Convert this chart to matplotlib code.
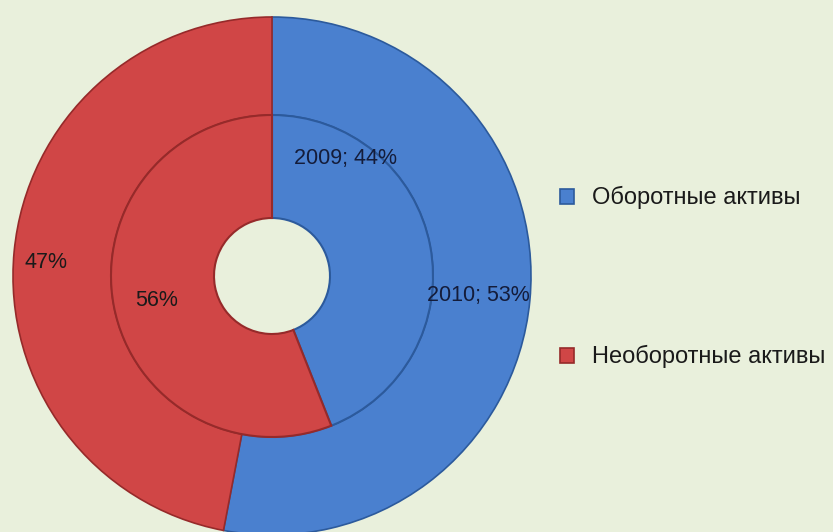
import numpy as np
import matplotlib.pyplot as plt

# ----------------------------------------------------------------------------------------------------------------------
# data
# ----------------------------------------------------------------------------------------------------------------------

categories = ["Оборотные активы", "Необоротные активы"]
years = ["2009", "2010"]
share_2009 = [44, 56]
share_2010 = [53, 47]

colors = ["#4a80cf", "#d04646"]
edge_colors = ["#2c5a9c", "#962a2a"]
bg = "#e9f0dc"

# ----------------------------------------------------------------------------------------------------------------------
# figure (axes in pixel units, 833 x 532)
# ----------------------------------------------------------------------------------------------------------------------

W, H = 833, 532
fig = plt.figure(figsize=(W / 100, H / 100), dpi=100, facecolor=bg)
ax = fig.add_axes([0, 0, 1, 1])
ax.set_facecolor(bg)

cx, cy = 272, H - 276
r_out, r_mid, r_in = 259, 161, 58

outer, _ = ax.pie(share_2010, radius=r_out, center=(cx, cy), startangle=90, counterclock=False,
                  colors=colors, frame=True,
                  wedgeprops=dict(width=r_out - r_mid, linewidth=1.2))
inner, _ = ax.pie(share_2009, radius=r_mid, center=(cx, cy), startangle=90, counterclock=False,
                  colors=colors, frame=True,
                  wedgeprops=dict(width=r_mid - r_in, linewidth=1.5))
for w_list in (outer, inner):
    for w, ec in zip(w_list, edge_colors):
        w.set_edgecolor(ec)

ax.set_xlim(0, W)
ax.set_ylim(0, H)
ax.set_aspect("equal")
ax.axis("off")

font = "Liberation Sans"
fs = 15.5
label_color = ["#141c3a", "#1a1a1a"]

# label places (angle in degrees, radius in px) -- same as in the picture
outer_pos = [(-5.5, 207), (176.5, 226)]
inner_pos = [(58, 139), (192, 118)]

for i, v in enumerate(share_2010):
    a, r = np.deg2rad(outer_pos[i][0]), outer_pos[i][1]
    txt = f"{years[1]}; {v}%" if i == 0 else f"{v}%"
    ax.text(cx + r * np.cos(a), cy + r * np.sin(a), txt, ha="center", va="center",
            fontsize=fs, family=font, color=label_color[i])

for i, v in enumerate(share_2009):
    a, r = np.deg2rad(inner_pos[i][0]), inner_pos[i][1]
    txt = f"{years[0]}; {v}%" if i == 0 else f"{v}%"
    ax.text(cx + r * np.cos(a), cy + r * np.sin(a), txt, ha="center", va="center",
            fontsize=fs, family=font, color=label_color[i])

leg = ax.legend(outer, categories, loc="upper left", bbox_to_anchor=(539 / W, 1 - 165 / H),
                frameon=False, handlelength=0.6, handleheight=0.6,
                handletextpad=0.75, labelspacing=5.75, prop=dict(family=font, size=17))
for t in leg.get_texts():
    t.set_color("#1a1a1a")

fig.savefig("out.png", dpi=100, facecolor=bg)
